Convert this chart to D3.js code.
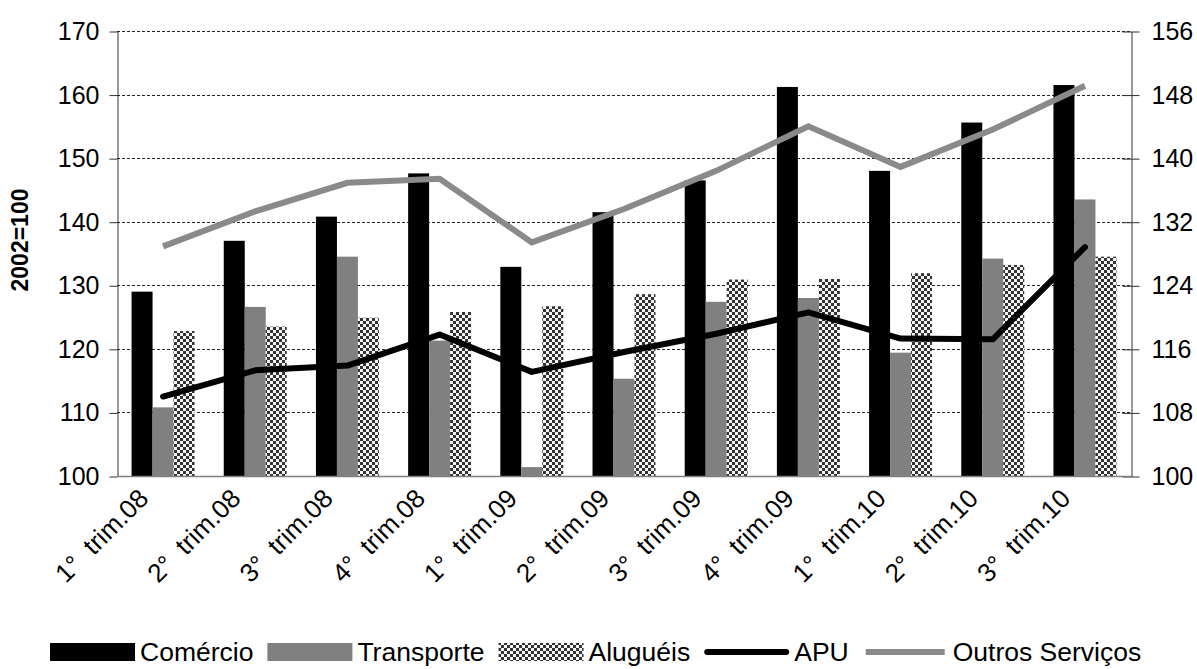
<!DOCTYPE html>
<html>
<head>
<meta charset="utf-8">
<script src="https://cdn.jsdelivr.net/npm/d3@7"></script>
<style>
  body { margin: 0; background: #fff; }
  svg { display: block; font-family: Arial, "Liberation Sans", sans-serif; }
</style>
</head>
<body>
<div class="svg-container"></div>
<script>
var categories = ['1°  trim.08', '2°  trim.08', '3°  trim.08', '4°  trim.08',
	'1°  trim.09', '2°  trim.09', '3°  trim.09', '4°  trim.09',
	'1°  trim.10', '2°  trim.10', '3°  trim.10'];
var comercio = [129.0, 137.0, 140.8, 147.6, 132.9, 141.5, 146.5, 161.2, 148.0, 155.6, 161.5];
var transporte = [110.8, 126.6, 134.5, 121.3, 101.4, 115.3, 127.4, 128.0, 119.4, 134.2, 143.5];
var alugueis = [122.8, 123.5, 124.9, 125.8, 126.7, 128.6, 130.9, 131.0, 131.9, 133.2, 134.5];
// lines are read on the right axis
var apu = [110.0, 113.3, 113.9, 117.8, 113.1, 115.6, 117.9, 120.6, 117.3, 117.2, 128.8];
var outrosServicos = [128.9, 133.3, 136.9, 137.4, 129.4, 133.6, 138.4, 144.0, 138.9, 143.6, 149.1];
var leftTicks = [100, 110, 120, 130, 140, 150, 160, 170];
var rightTicks = [100, 108, 116, 124, 132, 140, 148, 156];
var barNames = ['Comércio', 'Transporte', 'Aluguéis'];
var lineNames = ['APU', 'Outros Serviços'];

var width = 1197;
var height = 669;
var plotLeft = 117, plotRight = 1131, plotTop = 31, plotBottom = 476;

var svg = d3.select('.svg-container')
	.append('svg')
	.attr('width', width)
	.attr('height', height);

// Checker pattern for Aluguéis
var defs = svg.append('defs');
var pat = defs.append('pattern')
	.attr('id', 'checker')
	.attr('patternUnits', 'userSpaceOnUse')
	.attr('width', 6)
	.attr('height', 6);
pat.append('rect').attr('width', 6).attr('height', 6).attr('fill', '#f4f4f4');
pat.append('rect').attr('width', 3).attr('height', 3).attr('fill', '#333');
pat.append('rect').attr('x', 3).attr('y', 3).attr('width', 3).attr('height', 3).attr('fill', '#333');

var fills = ['#000', '#808080', 'url(#checker)'];

// Scales
var xScale = d3.scaleBand()
	.domain(categories)
	.range([plotLeft, plotRight])
	.paddingInner(0.317)
	.paddingOuter(0.158);

var xSub = d3.scaleBand()
	.domain(d3.range(3))
	.range([0, xScale.bandwidth()]);

var yLeft = d3.scaleLinear().domain([100, 170]).range([plotBottom, plotTop]);
var yRight = d3.scaleLinear().domain([100, 156]).range([plotBottom, plotTop]);

// Gridlines
svg.append('g')
	.selectAll('line')
	.data(leftTicks.slice(1))
	.enter()
	.append('line')
	.attr('x1', plotLeft)
	.attr('x2', plotRight)
	.attr('y1', function(d) { return Math.round(yLeft(d)) + 0.5; })
	.attr('y2', function(d) { return Math.round(yLeft(d)) + 0.5; })
	.attr('stroke', '#222')
	.attr('stroke-width', 1)
	.attr('stroke-dasharray', '3,2');

// Bars
var barSeries = [comercio, transporte, alugueis];
var groups = svg.selectAll('g.series')
	.data(barSeries)
	.enter()
	.append('g')
	.attr('class', 'series')
	.attr('fill', function(d, i) { return fills[i]; });

groups.each(function(values, s) {
	d3.select(this).selectAll('rect')
		.data(values)
		.enter()
		.append('rect')
		.attr('x', function(d, i) { return xScale(categories[i]) + xSub(s); })
		.attr('y', function(d) { return yLeft(d); })
		.attr('width', xSub.bandwidth())
		.attr('height', function(d) { return yLeft(100) - yLeft(d); });
});

// Axes
var leftAxis = d3.axisLeft(yLeft).tickValues(leftTicks).tickSize(8).tickPadding(10).tickSizeOuter(0);
var rightAxis = d3.axisRight(yRight).tickValues(rightTicks).tickSize(8).tickPadding(12).tickSizeOuter(0);

var gl = svg.append('g').attr('transform', 'translate(' + (plotLeft + 0.5) + ',0.5)').call(leftAxis);
var gr = svg.append('g').attr('transform', 'translate(' + (plotRight + 0.5) + ',0.5)').call(rightAxis);
gr.selectAll('.tick line').attr('x1', -9);
[gl, gr].forEach(function(g) {
	g.select('.domain').attr('stroke', '#333');
	g.selectAll('.tick line').attr('stroke', '#333');
	g.selectAll('text')
		.attr('font-size', 25)
		.attr('fill', '#000')
		.attr('font-family', 'Arial, "Liberation Sans", sans-serif');
});

// Category axis line
svg.append('line')
	.attr('x1', plotLeft)
	.attr('x2', plotRight)
	.attr('y1', plotBottom + 0.5)
	.attr('y2', plotBottom + 0.5)
	.attr('stroke', '#808080')
	.attr('stroke-width', 1.5);

// Category labels
svg.append('g')
	.selectAll('text')
	.data(categories)
	.enter()
	.append('text')
	.attr('transform', function(d) {
		return 'translate(' + (xScale(d) + xScale.bandwidth() / 2 - 13) + ',' + (plotBottom + 24) + ') rotate(-45)';
	})
	.attr('text-anchor', 'end')
	.style('white-space', 'pre')
	.attr('font-size', 26)
	.text(function(d) { return d; });

// Y title
svg.append('text')
	.attr('transform', 'translate(28,240) rotate(-90)')
	.attr('text-anchor', 'middle')
	.attr('font-size', 23)
	.attr('font-weight', 'bold')
	.text('2002=100');

// Lines
var line = d3.line()
	.x(function(d, i) { return xScale(categories[i]) + xScale.bandwidth() / 2; })
	.y(function(d) { return yRight(d); });

svg.append('path')
	.datum(outrosServicos)
	.attr('fill', 'none')
	.attr('stroke', '#8a8a8a')
	.attr('stroke-width', 6)
	.attr('d', line);

svg.append('path')
	.datum(apu)
	.attr('fill', 'none')
	.attr('stroke', '#000')
	.attr('stroke-width', 6)
	.attr('stroke-linecap', 'round')
	.attr('stroke-linejoin', 'round')
	.attr('d', line);

// Legend
var legendItems = [
	{ name: barNames[0], type: 'rect', fill: fills[0] },
	{ name: barNames[1], type: 'rect', fill: fills[1] },
	{ name: barNames[2], type: 'rect', fill: fills[2] },
	{ name: lineNames[0], type: 'line', stroke: '#000' },
	{ name: lineNames[1], type: 'line', stroke: '#8a8a8a' }
];
var legend = svg.append('g');
var lx = 50;
var ly = 652;
legendItems.forEach(function(item) {
	if (item.type === 'rect') {
		legend.append('rect')
			.attr('x', lx).attr('y', ly - 9)
			.attr('width', 85).attr('height', 18)
			.attr('fill', item.fill);
	} else {
		legend.append('line')
			.attr('x1', lx + 3).attr('x2', lx + 82)
			.attr('y1', ly).attr('y2', ly)
			.attr('stroke', item.stroke)
			.attr('stroke-width', 6)
			.attr('stroke-linecap', item.name === 'APU' ? 'round' : 'butt');
	}
	var t = legend.append('text')
		.attr('x', lx + 90)
		.attr('y', ly + 9)
		.attr('font-size', 26.5)
		.text(item.name);
	lx += 90 + t.node().getComputedTextLength() + 14;
});
</script>
</body>
</html>
